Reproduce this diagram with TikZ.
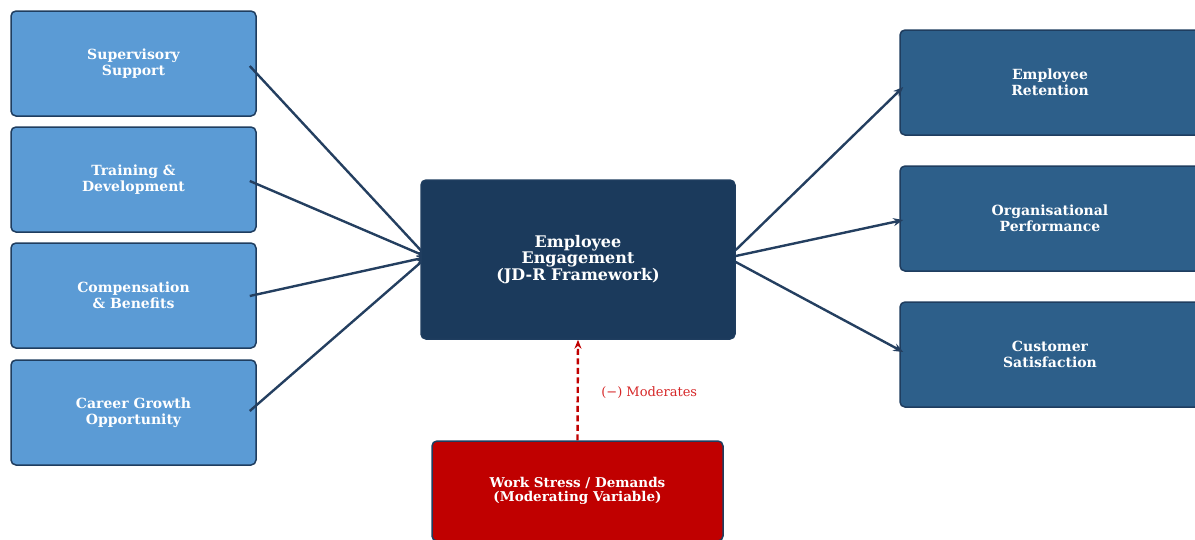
\documentclass[tikz,border=0pt]{standalone}
\usepackage{fontspec}
\setmainfont{DejaVu Serif}
\usetikzlibrary{arrows.meta}

\definecolor{factorblue}{HTML}{5B9BD5}
\definecolor{coreblue}{HTML}{1B3A5C}
\definecolor{outcomeblue}{HTML}{2D5F8A}
\definecolor{edgeblue}{HTML}{1F3D5F}
\definecolor{linkblue}{HTML}{243F60}
\definecolor{stressred}{HTML}{C00000}
\definecolor{noteRed}{HTML}{D62728}

\begin{document}
\begin{tikzpicture}[x=1pt,y=-1pt,
	box_node/.style={draw=edgeblue,line width=1.5pt,rounded corners=5pt,text=white,align=center,inner sep=0pt},
	factor_node/.style={box_node,fill=factorblue,minimum width=245pt,minimum height=105pt,font=\bfseries\fontsize{14}{15.5}\selectfont},
	outcome_node/.style={box_node,fill=outcomeblue,minimum width=300pt,minimum height=105pt,font=\bfseries\fontsize{14}{15.5}\selectfont},
	link/.style={draw=linkblue,line width=2.4pt,-{Stealth[length=10pt,width=8pt]}}]
	\useasboundingbox (0,0) rectangle (1195,539);
	% inputs
	\node[factor_node] (1) at (133.5,63.5) {Supervisory\\Support};
	\node[factor_node] (2) at (133.5,179.5) {Training \&\\Development};
	\node[factor_node] (3) at (133.5,295.5) {Compensation\\\& Benefits};
	\node[factor_node] (4) at (133.5,412.5) {Career Growth\\Opportunity};
	\coordinate (c) at (427,257);
	\draw[link] ([xshift=-7pt,yshift=-2.5pt]1.east) -- (c);
	\draw[link] ([xshift=-7pt,yshift=-1.5pt]2.east) -- (c);
	\draw[link] ([xshift=-7pt,yshift=-0.5pt]3.east) -- (c);
	\draw[link] ([xshift=-7pt,yshift=1.5pt]4.east) -- (c);
	% core
	\node[box_node,fill=coreblue,minimum width=314pt,minimum height=159pt,font=\bfseries\fontsize{16}{16.5}\selectfont] (5) at (578,259.5) {Employee\\Engagement\\(JD-R Framework)};
	% outcomes
	\node[outcome_node] (6) at (1050,82.5) {Employee\\Retention};
	\node[outcome_node] (7) at (1050,218.5) {Organisational\\Performance};
	\node[outcome_node] (8) at (1050,354.5) {Customer\\Satisfaction};
	% moderator
	\node[box_node,fill=stressred,minimum width=291pt,minimum height=100pt,font=\bfseries\fontsize{13.5}{14}\selectfont] (9) at (577.5,491) {Work Stress / Demands\\(Moderating Variable)};
	\draw[link] ([yshift=9.5pt]5.east) -- ([xshift=4pt,yshift=-4.5pt]6.west);
	\draw[link] ([yshift=3.5pt]5.east) -- ([xshift=4pt,yshift=-1.5pt]7.west);
	\draw[link] ([yshift=-2.5pt]5.east) -- ([xshift=4pt,yshift=2.5pt]8.west);
	\draw[draw=stressred,line width=2.4pt,dash pattern=on 6pt off 3.5pt,-{Stealth[length=9pt,width=7pt]}] (9.north) -- (5.south)
		node[pos=0.5,right=19pt,yshift=-3pt,text=noteRed,font=\fontsize{13}{14}\selectfont] {(−) Moderates};
\end{tikzpicture}
\end{document}
